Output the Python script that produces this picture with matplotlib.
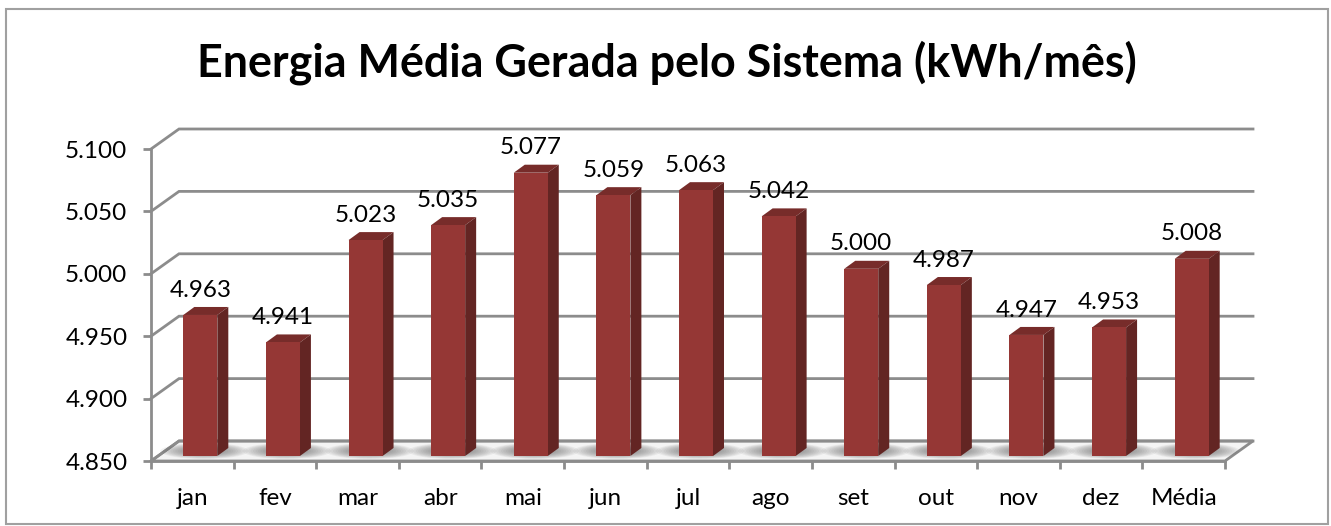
import matplotlib.pyplot as plt
from matplotlib.patches import Polygon, Rectangle, Ellipse
import numpy as np

plt.rcParams['font.family'] = ['Lato', 'DejaVu Sans']

categories = ['jan', 'fev', 'mar', 'abr', 'mai', 'jun', 'jul', 'ago', 'set', 'out', 'nov', 'dez', 'Média']
values = [4.963, 4.941, 5.023, 5.035, 5.077, 5.059, 5.063, 5.042, 5.000, 4.987, 4.947, 4.953, 5.008]
value_labels = ['4.963', '4.941', '5.023', '5.035', '5.077', '5.059', '5.063', '5.042', '5.000', '4.987', '4.947', '4.953', '5.008']
y_ticks = [4.85, 4.90, 4.95, 5.00, 5.05, 5.10]
y_labels = ['4.850', '4.900', '4.950', '5.000', '5.050', '5.100']
title = 'Energia Média Gerada pelo Sistema (kWh/mês)'

W, H = 1331, 526
GREY = '#8c8c8c'
fig = plt.figure(figsize=(W/100, H/100), dpi=100, facecolor='white')

# outer chart frame
fig.add_artist(Rectangle((5.5/W, 1-523.5/H), 1322/W, 515/H, transform=fig.transFigure,
                         fill=False, edgecolor='#a0a0a0', linewidth=1.5))

# front plane of the fake 3d box
left, right, top, bottom = 151, 1225, 149, 461
ax = fig.add_axes([left/W, 1-bottom/H, (right-left)/W, (bottom-top)/H])
ax.patch.set_alpha(0)
ax.set_xlim(0, len(categories))
ax.set_ylim(4.85, 5.10)

# pixels to data units, for the depth offsets
px = len(categories) / (right-left)
py = 0.25 / (bottom-top)
depth_x, depth_y = 28*px, 20*py

# floor
y0 = y_ticks[0]
n = len(categories)
ax.add_patch(Polygon([(0, y0), (n, y0), (n+depth_x, y0+depth_y), (depth_x, y0+depth_y)],
                     facecolor='#f4f4f4', edgecolor=GREY, linewidth=2, clip_on=False, zorder=1))

# back wall grid lines
for t in y_ticks:
    ax.plot([0, depth_x, n+depth_x], [t, t+depth_y, t+depth_y], color=GREY, lw=2,
            clip_on=False, zorder=1, solid_joinstyle='miter')

# bars
bw = 34*px
off_x, off_y = 8*px, 5*py
bd_x, bd_y = 11*px, 8*py
for i, v in enumerate(values):
    x0 = i + 0.5 - bw/2 + off_x
    x1 = x0 + bw
    b = y0 + off_y
    t = v + off_y

    # soft shadow on the floor
    cx = (x0 + x1)/2 + 4*px
    cy = b + 5*py
    for k in range(12):
        ax.add_patch(Ellipse((cx, cy), (88-5*k)*px, (16-1.0*k)*py, facecolor='#5a5a5a',
                             edgecolor='none', alpha=0.07, clip_on=False, zorder=2))

    ax.add_patch(Polygon([(x0, t), (x1, t), (x1+bd_x, t+bd_y), (x0+bd_x, t+bd_y)],
                         facecolor='#772c2a', edgecolor='none', zorder=3, clip_on=False))
    ax.add_patch(Polygon([(x1, b), (x1+bd_x, b+bd_y), (x1+bd_x, t+bd_y), (x1, t)],
                         facecolor='#632523', edgecolor='none', zorder=3, clip_on=False))
    ax.add_patch(Rectangle((x0, b), bw, t-b, facecolor='#953735', edgecolor='none', zorder=4, clip_on=False))

    ax.annotate(value_labels[i], ((x0+x1)/2, v), xytext=(0, 21.5), textcoords='offset points',
                ha='center', va='center', fontsize=17.5, color='black', zorder=5, annotation_clip=False)

# axes
for s in ['top', 'right']:
    ax.spines[s].set_visible(False)
for s in ['left', 'bottom']:
    ax.spines[s].set_color(GREY)
    ax.spines[s].set_linewidth(2)
    ax.spines[s].set_zorder(2)

ax.set_yticks(y_ticks)
ax.set_yticklabels(y_labels, fontsize=17.5)
ax.tick_params(axis='y', length=6, width=2, color=GREY, pad=11)
ax.set_xticks(np.arange(n+1))
ax.set_xticklabels([])
ax.set_xticks(np.arange(n)+0.5, minor=True)
ax.set_xticklabels(categories, minor=True, fontsize=17.5)
ax.tick_params(axis='x', which='major', length=6, width=2, color=GREY)
ax.tick_params(axis='x', which='minor', length=0, pad=19.5)

fig.text(667/W, 1-63/H, title, ha='center', va='center', fontsize=32.3, fontweight='bold', color='black')

fig.savefig('out.png', dpi=100)
